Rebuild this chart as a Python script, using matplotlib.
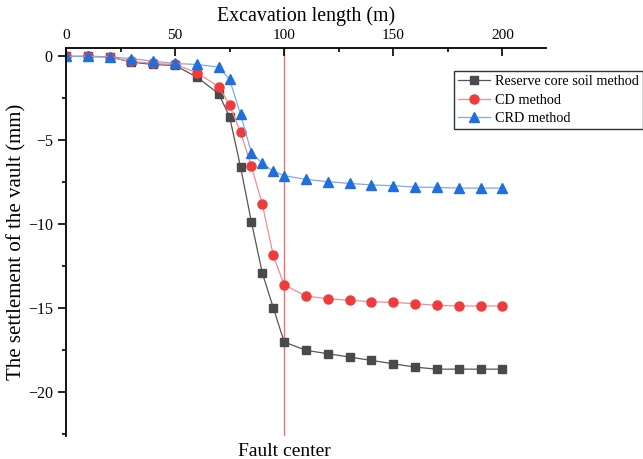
import matplotlib.pyplot as plt
from matplotlib.ticker import MultipleLocator

plt.rcParams['font.family'] = ['Liberation Serif', 'DejaVu Serif']

# excavation length (m)
x = [0, 10, 20, 30, 40, 50, 60, 70, 75, 80, 85, 90, 95, 100,
     110, 120, 130, 140, 150, 160, 170, 180, 190, 200]

# settlement of the vault (mm)
reserve_core = [0, 0, -0.02, -0.34, -0.48, -0.54, -1.23, -2.22, -3.6, -6.57, -9.86, -12.9, -14.96, -17.0,
                -17.5, -17.7, -17.9, -18.1, -18.3, -18.5, -18.62, -18.62, -18.62, -18.62]
cd_method = [0, 0, -0.05, -0.3, -0.42, -0.48, -0.97, -1.8, -2.9, -4.5, -6.55, -8.8, -11.85, -13.6,
             -14.27, -14.43, -14.52, -14.6, -14.65, -14.72, -14.82, -14.86, -14.86, -14.86]
crd_method = [0, 0, -0.02, -0.14, -0.28, -0.42, -0.48, -0.64, -1.37, -3.45, -5.73, -6.37, -6.83, -7.1,
              -7.32, -7.46, -7.56, -7.65, -7.7, -7.78, -7.8, -7.84, -7.84, -7.84]

fault_x = 100

fig = plt.figure(figsize=(6.43, 4.59), dpi=100)
ax = fig.add_axes([0.1026, 0.0501, 0.7465, 0.8453])

ax.plot(x, reserve_core, color='#555555', lw=0.9, marker='s', ms=5.8,
        mfc='#4a4a4a', mec='#4a4a4a', label='Reserve core soil method')
ax.plot(x, cd_method, color='#f28c8c', lw=0.9, marker='o', ms=6.5,
        mfc='#ef3b3b', mec='#ef3b3b', label='CD method')
ax.plot(x, crd_method, color='#7fa8e8', lw=0.9, marker='^', ms=7.5,
        mfc='#1f6fdc', mec='#1f6fdc', label='CRD method')

ax.axvline(fault_x, color='#f07070', lw=1.0, zorder=0)

ax.set_xlim(0, 220)
ax.set_ylim(-22.6, 0.5)

ax.xaxis.tick_top()
ax.xaxis.set_label_position('top')
ax.set_xticks([0, 50, 100, 150, 200])
ax.xaxis.set_minor_locator(MultipleLocator(25))
ax.yaxis.set_major_locator(MultipleLocator(5))
ax.yaxis.set_minor_locator(MultipleLocator(2.5))

for s in ['right', 'bottom']:
    ax.spines[s].set_visible(False)
for s in ['left', 'top']:
    ax.spines[s].set_linewidth(1.3)

ax.tick_params(axis='x', which='major', direction='in', length=6, width=1.2, labelsize=11, pad=4)
ax.tick_params(axis='x', which='minor', direction='in', length=3, width=1.2)
ax.tick_params(axis='y', which='major', direction='out', length=6, width=1.2, labelsize=11.5)
ax.tick_params(axis='y', which='minor', direction='out', length=3, width=1.2)

ax.set_xlabel('Excavation length (m)', fontsize=14.3, labelpad=6)
ax.set_ylabel('The settlement of the vault (mm)', fontsize=15, labelpad=1)

ax.text(fault_x, -23.0, 'Fault center', ha='center', va='top', fontsize=14)

ax.legend(loc='upper left', bbox_to_anchor=(454 / 643, 1 - 71 / 459), bbox_transform=fig.transFigure,
          fontsize=10.3, frameon=True, fancybox=False, edgecolor='#333333', framealpha=1,
          handlelength=2.2, handletextpad=0.35, borderpad=0.3, labelspacing=0.38, borderaxespad=0)

fig.savefig('out.png', dpi=100)
